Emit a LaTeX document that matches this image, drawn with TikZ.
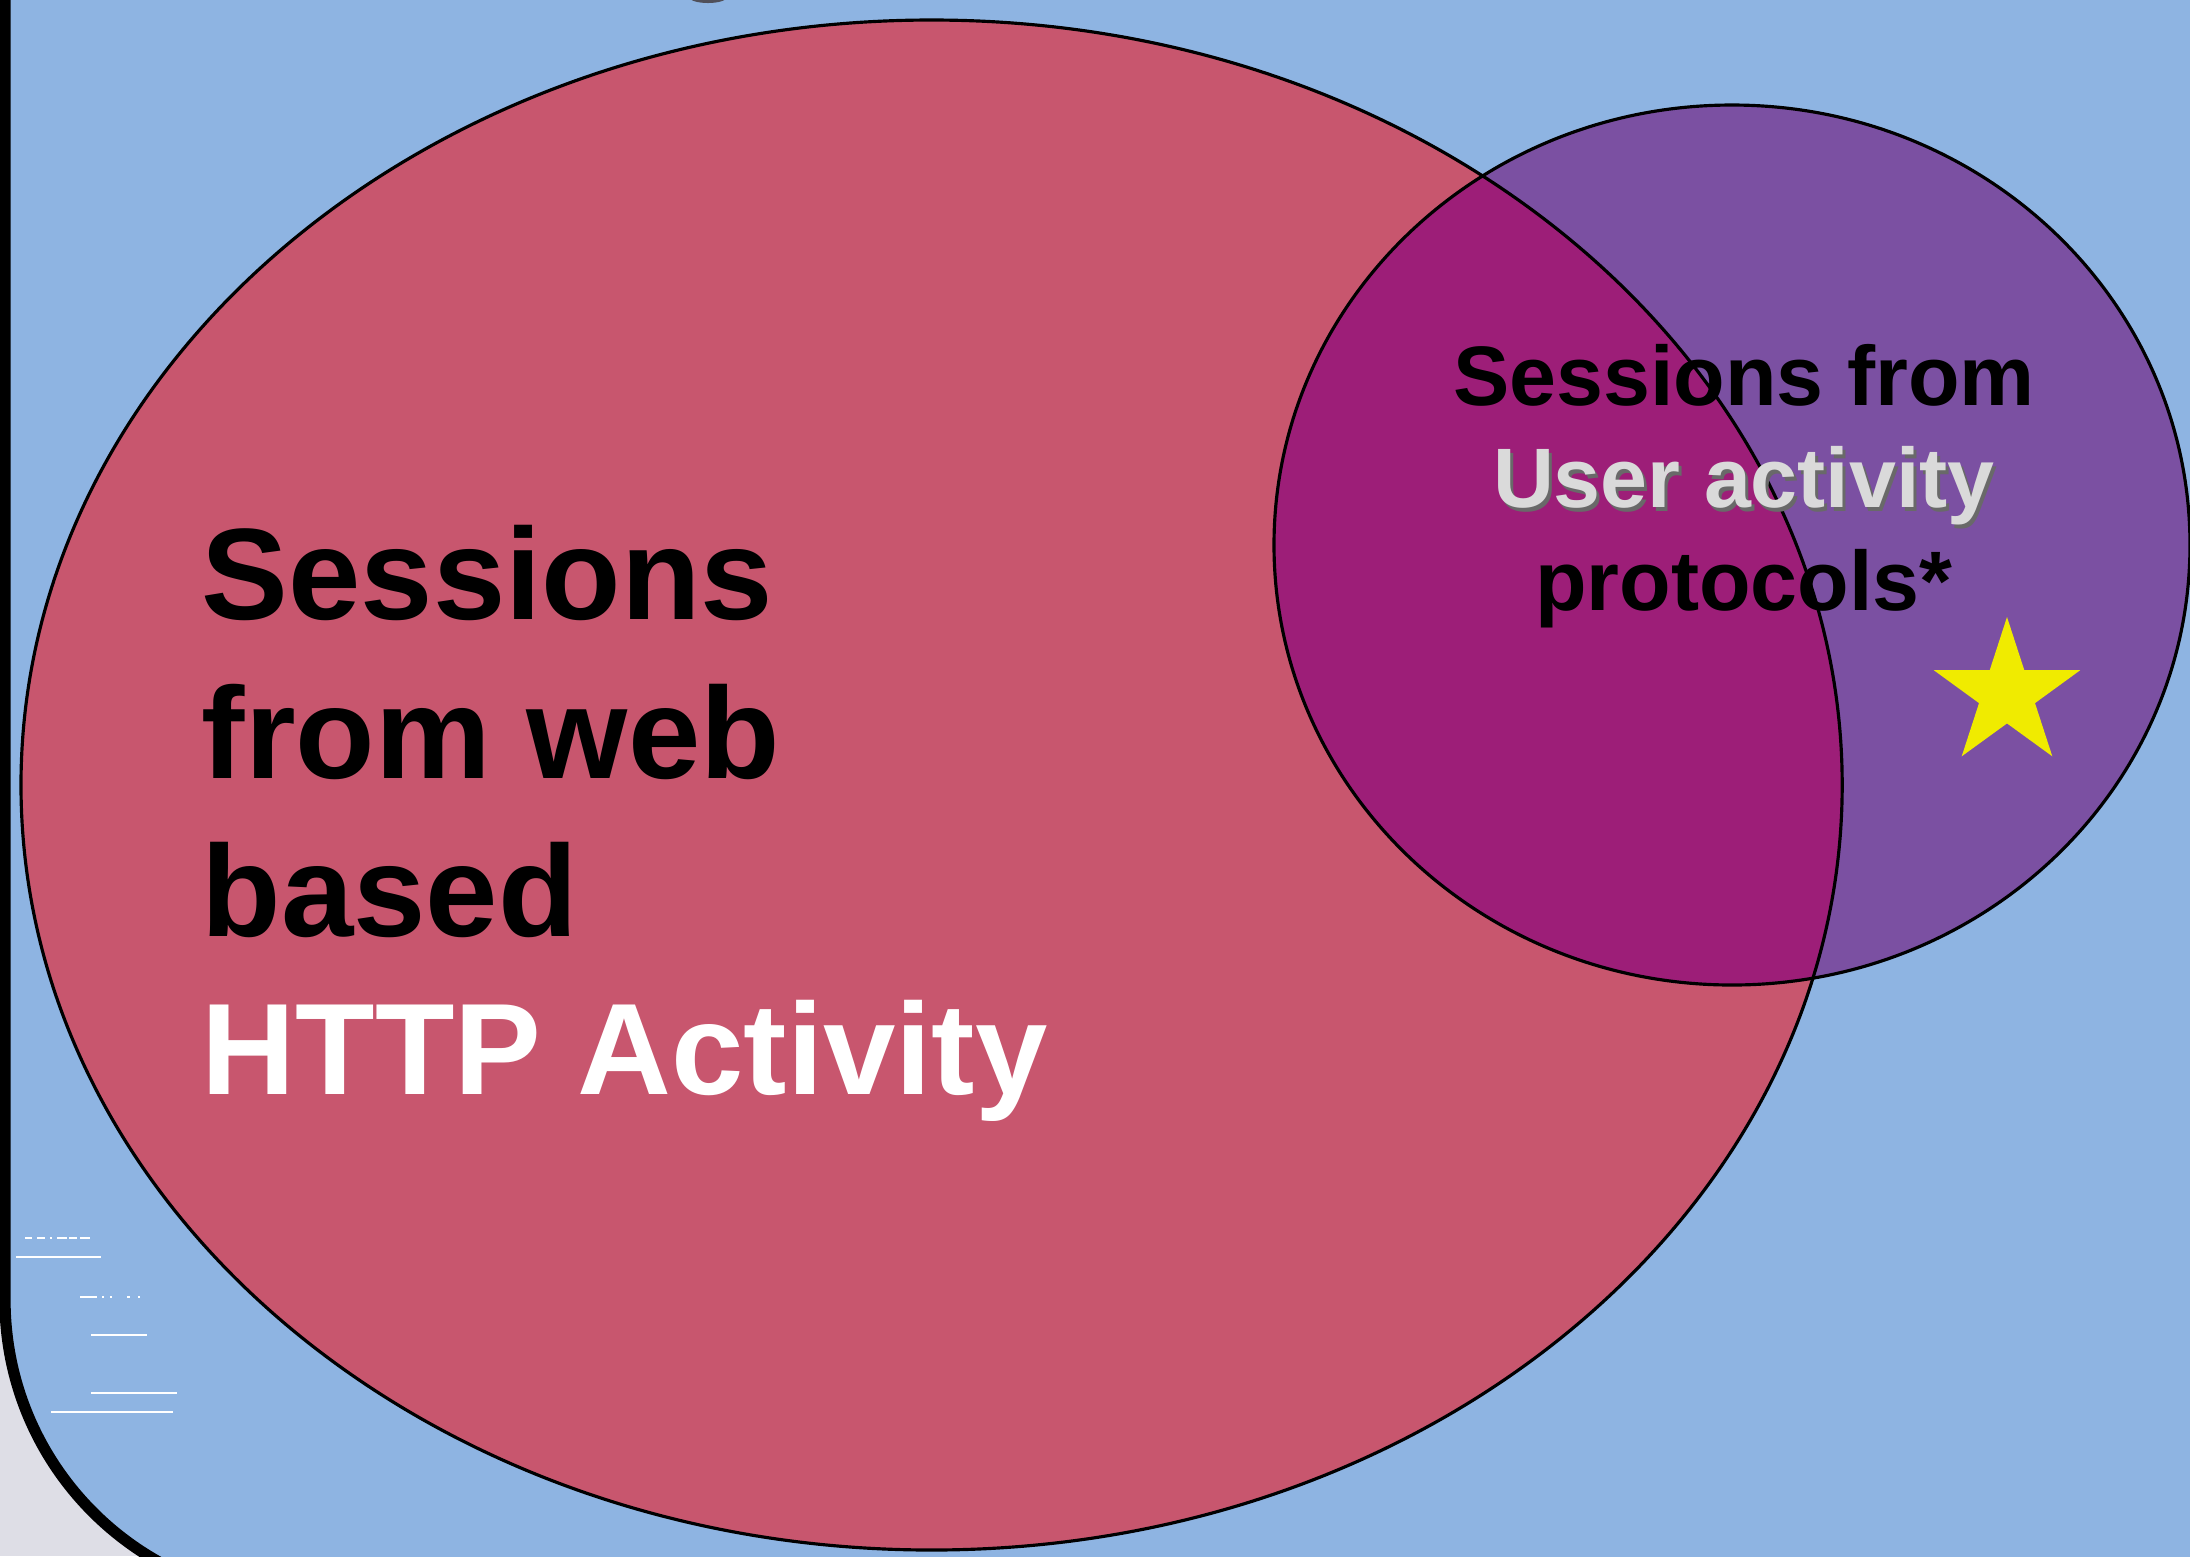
\documentclass[tikz,border=0pt]{standalone}
\usepackage{fontspec}
\setmainfont{Liberation Sans}
\definecolor{bgblue}{RGB}{142,180,226}
\definecolor{outgray}{RGB}{222,222,230}
\definecolor{webpink}{RGB}{200,86,110}
\definecolor{userpurple}{RGB}{123,80,162}
\definecolor{overlap}{RGB}{157,30,120}
\definecolor{staryellow}{RGB}{240,235,0}
\definecolor{embossgray}{RGB}{218,218,218}
\definecolor{shadowgray}{RGB}{105,105,105}
\definecolor{markgray}{RGB}{80,80,90}
\begin{document}
\begin{tikzpicture}[x=0.01cm,y=-0.01cm,
  bigtext/.style={font=\fontsize{37}{45}\selectfont\bfseries, inner sep=0pt, anchor=base west},
  smalltext/.style={font=\fontsize{24}{29}\selectfont\bfseries, inner sep=0pt, anchor=base},
  venn/.style={draw=black, line width=0.9pt},
  scratch/.style={draw=white, line width=0.6pt}]
\useasboundingbox (0,0) rectangle (2190,1556);
\clip (0,0) rectangle (2190,1556);
% outside and framed background
\fill[outgray] (0,0) rectangle (2190,1556);
\path[fill=bgblue, draw=black, line width=3.2pt, rounded corners=3cm]
  (5,-800) -- (5,1600) -- (2800,1600) -- (2800,-800) -- cycle;
\fill[markgray] (708,-3) ellipse [x radius=19, y radius=6];
% venn sets
\fill[webpink] (931.6,785) ellipse [x radius=910.6, y radius=765];
\fill[userpurple] (1732,545) ellipse [x radius=458, y radius=440];
\begin{scope}
  \clip (1732,545) ellipse [x radius=458, y radius=440];
  \fill[overlap] (931.6,785) ellipse [x radius=910.6, y radius=765];
\end{scope}
\draw[venn] (931.6,785) ellipse [x radius=910.6, y radius=765];
\draw[venn] (1732,545) ellipse [x radius=458, y radius=440];
% star
\fill[staryellow] (2007,617) -- (2024.3,670.2) -- (2080.2,670.2) -- (2035.0,703.1)
  -- (2052.3,756.3) -- (2007,723.4) -- (1961.7,756.3) -- (1979.0,703.1)
  -- (1933.8,670.2) -- (1989.7,670.2) -- cycle;
% left text
\node[bigtext] (l1) at (201,619) {Sessions};
\node[bigtext] (l2) at (201,778) {from web};
\node[bigtext] (l3) at (201,936) {based};
\node[bigtext, text=white] (l4) at (201,1094) {HTTP Activity};
% right text
\node[smalltext] (r1) at (1744,405) {Sessions from};
\node[smalltext, text=shadowgray] (r2s) at (1747,511) {User activity};
\node[smalltext, text=embossgray] (r2) at (1744,507) {User activity};
\node[smalltext] (r3) at (1744,610) {protocols*};
% scratch marks
\draw[scratch] (25,1238) -- (32,1238) (37,1238) -- (45,1238) (50,1238) -- (52,1238)
  (57,1238) -- (67,1238) (69,1238) -- (77,1238) (80,1238) -- (90,1238);
\draw[scratch] (16,1257) -- (101,1257);
\draw[scratch] (80,1297) -- (97,1297) (102,1297) -- (104,1297) (110,1297) -- (112,1297)
  (127,1297) -- (130,1297) (138,1297) -- (140,1297);
\draw[scratch] (91,1335) -- (147,1335);
\draw[scratch] (91,1393) -- (177,1393);
\draw[scratch] (51,1412) -- (173,1412);
\end{tikzpicture}
\end{document}
